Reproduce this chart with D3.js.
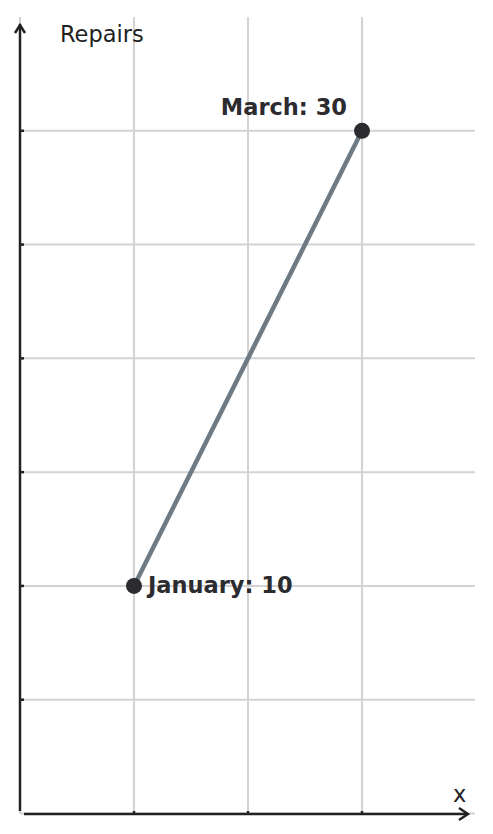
<!DOCTYPE html>
<html><head><meta charset="utf-8">
<script src="https://cdn.jsdelivr.net/npm/d3@7"></script>
<style>body{margin:0;background:#fff}svg{display:block}</style>
</head><body>
<script>
const months = ["January", "March"];
const monthPos = [1, 3];
const repairs = [10, 30];
const yTicks = [0, 5, 10, 15, 20, 25, 30];
const xTicks = [0, 1, 2, 3];
const yLabel = "Repairs";
const xLabel = "x";

const W = 493, H = 834;
const x = d3.scaleLinear().domain([0, 4]).range([20, 476]);
const y = d3.scaleLinear().domain([0, 35]).range([813.5, 17]);

const svg = d3.select("body").append("svg").attr("width", W).attr("height", H);

// grid
svg.append("g").selectAll("line").data(yTicks).join("line")
  .attr("x1", x(0)).attr("x2", 475).attr("y1", d => y(d)).attr("y2", d => y(d))
  .attr("stroke", "#d3d3d3").attr("stroke-width", 2);
svg.append("g").selectAll("line").data(xTicks).join("line")
  .attr("x1", d => x(d)).attr("x2", d => x(d)).attr("y1", y(35)).attr("y2", y(0))
  .attr("stroke", "#d3d3d3").attr("stroke-width", 2);

// axes
const ac = "#222";
svg.append("line").attr("x1", x(0)).attr("x2", x(0)).attr("y1", 811).attr("y2", 24)
  .attr("stroke", ac).attr("stroke-width", 2.5);
svg.append("path").attr("d", `M${x(0)-5},${33} L${x(0)},${25} L${x(0)+5},${33}`)
  .attr("fill", "none").attr("stroke", ac).attr("stroke-width", 2.5);
svg.append("line").attr("x1", 24).attr("x2", 467).attr("y1", 814).attr("y2", 814)
  .attr("stroke", ac).attr("stroke-width", 2.5);
svg.append("path").attr("d", `M${459},${808} L${468},${814} L${459},${820}`)
  .attr("fill", "none").attr("stroke", ac).attr("stroke-width", 2.5);

// ticks
svg.append("g").selectAll("line").data(yTicks.filter(d => d > 0)).join("line")
  .attr("x1", x(0)).attr("x2", x(0) + 4).attr("y1", d => y(d)).attr("y2", d => y(d))
  .attr("stroke", ac).attr("stroke-width", 2.5);
svg.append("g").selectAll("line").data(xTicks.filter(d => d > 0)).join("line")
  .attr("x1", d => x(d)).attr("x2", d => x(d)).attr("y1", 814).attr("y2", 811)
  .attr("stroke", ac).attr("stroke-width", 2.5);

// labels
svg.append("text").attr("x", 60).attr("y", 42).text(yLabel)
  .attr("font-family", "DejaVu Sans").attr("font-size", 22.5).attr("fill", ac);
svg.append("text").attr("x", 453).attr("y", 802).text(xLabel)
  .attr("font-family", "DejaVu Sans").attr("font-size", 22.5).attr("fill", ac);

// line
const pts = months.map((m, i) => ({m, px: monthPos[i], v: repairs[i]}));
svg.append("path").datum(pts)
  .attr("d", d3.line().x(d => x(d.px)).y(d => y(d.v)))
  .attr("fill", "none").attr("stroke", "#6e7b84").attr("stroke-width", 4.5);

svg.append("g").selectAll("circle").data(pts).join("circle")
  .attr("cx", d => x(d.px)).attr("cy", d => y(d.v)).attr("r", 8).attr("fill", "#2b2b30");

svg.append("g").selectAll("text").data(pts).join("text")
  .attr("x", (d, i) => i === 0 ? x(d.px) + 14 : x(d.px) - 15)
  .attr("y", (d, i) => i === 0 ? y(d.v) + 7 : y(d.v) - 16)
  .attr("text-anchor", (d, i) => i === 0 ? "start" : "end")
  .attr("font-family", "DejaVu Sans").attr("font-weight", "bold").attr("font-size", 22.5)
  .attr("fill", "#2b2b30")
  .text(d => `${d.m}: ${d.v}`);
</script>
</body></html>
